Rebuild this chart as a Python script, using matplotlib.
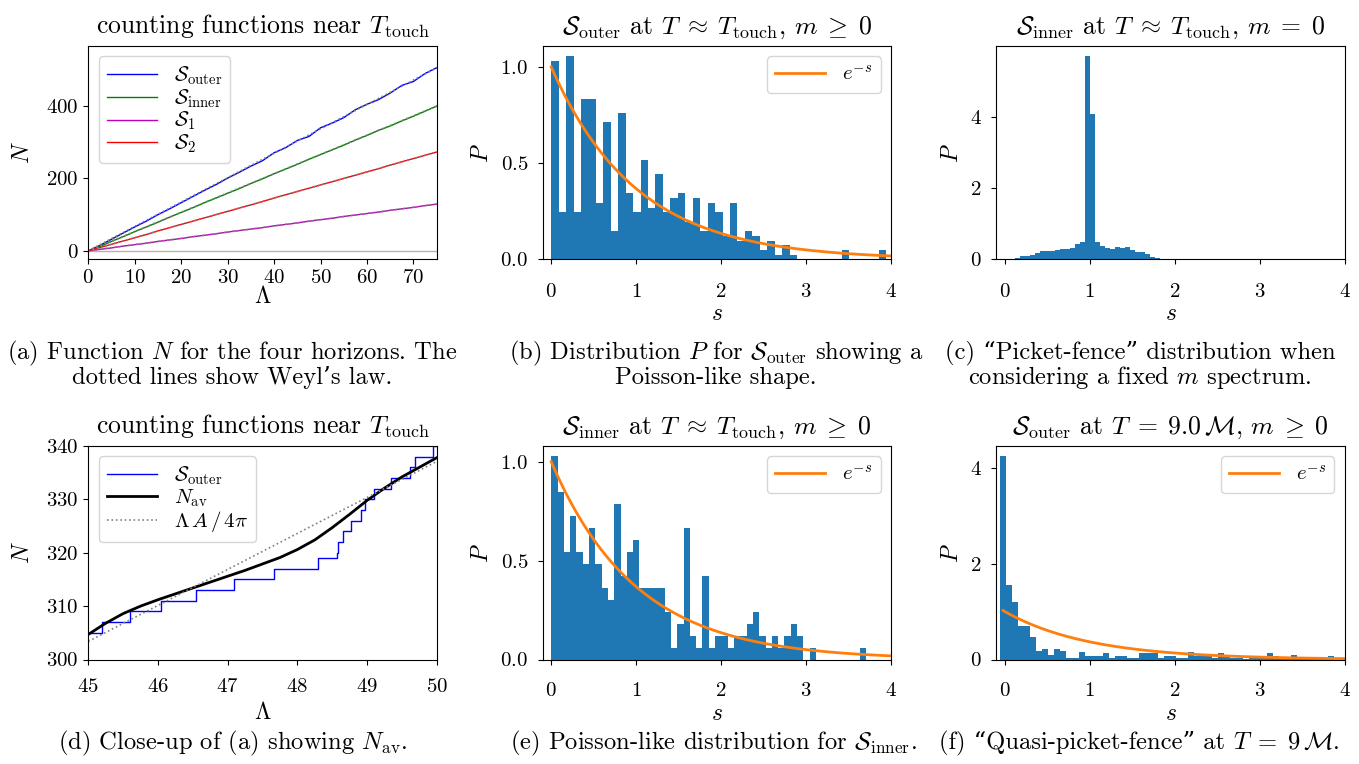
import numpy as np
import matplotlib
matplotlib.use("Agg")
import matplotlib.pyplot as plt

plt.rcParams['font.family'] = ['cmr10', 'DejaVu Serif']
plt.rcParams['mathtext.fontset'] = 'cm'
plt.rcParams['axes.formatter.use_mathtext'] = True

# --- (a) counting functions N(Lambda) for the four horizons ---
lam_a = np.arange(0, 75.1, 2.5)
n_outer = [0, 15, 32, 49, 66, 82, 100, 116, 133, 150, 167, 183, 201, 217, 234, 249,
           271, 285, 305, 316, 340, 353, 368, 390, 405, 418, 436, 457, 468, 490, 506]
n_inner = [0, 12, 26, 39, 53, 66, 79, 93, 106, 119, 133, 146, 159, 172, 186, 199,
           213, 226, 239, 253, 266, 279, 292, 306, 319, 333, 345, 359, 372, 386, 400]
n_s1 = [0, 4, 8, 13, 17, 21, 26, 30, 34, 39, 43, 47, 52, 56, 60, 64,
        69, 73, 77, 82, 86, 90, 95, 99, 103, 107, 112, 116, 120, 125, 129]
n_s2 = [0, 9, 18, 27, 36, 45, 55, 64, 73, 82, 91, 100, 109, 118, 127, 136,
        146, 155, 164, 173, 182, 191, 200, 209, 218, 227, 237, 246, 255, 264, 273]
# A/4pi for each horizon (Weyl's law N ~ Lambda A / 4 pi)
weyl_outer, weyl_inner, weyl_s1, weyl_s2 = 6.742, 5.33, 1.72, 3.64

# --- (d) close-up of the outer staircase ---
lam_d = [45.0, 45.19, 45.60, 46.05, 46.55, 47.09, 47.66, 48.30, 48.57, 48.59, 48.66,
         48.77, 48.92, 48.97, 49.10, 49.34, 49.62, 49.69, 49.94, 50.0]
stair_d = [305, 307, 309, 311, 313, 315, 317, 319, 320, 322, 324,
           326, 328, 330, 332, 334, 336, 338, 340, 340]
lam_av = [45.0, 45.25, 45.5, 45.75, 46.0, 46.25, 46.5, 46.75, 47.0, 47.25, 47.5,
          47.75, 48.0, 48.25, 48.5, 48.75, 49.0, 49.25, 49.5, 49.75, 50.0]
n_av = [304.7, 306.8, 308.6, 310.0, 311.2, 312.3, 313.4, 314.5, 315.6, 316.7, 317.9,
        319.1, 320.6, 322.4, 324.7, 327.2, 329.8, 332.1, 334.2, 336.0, 337.8]

# --- spacing histograms (density per bin) ---
b_range = (0.0, 3.945)
b_dens = [1.031, 0.246, 1.056, 0.246, 0.835, 0.835, 0.295, 0.712, 0.147, 0.761,
          0.344, 0.246, 0.516, 0.270, 0.442, 0.246, 0.319, 0.344, 0.196, 0.319,
          0.147, 0.295, 0.246, 0.123, 0.295, 0.098, 0.147, 0.123, 0.049, 0.098,
          0.025, 0.074, 0.025, 0, 0, 0, 0, 0, 0, 0.049, 0, 0, 0, 0, 0.049]

c_range = (0.0, 1.8235)
c_dens = [0.01, 0.01, 0.03, 0.09, 0.09, 0.12, 0.18, 0.23, 0.23, 0.23, 0.26, 0.29,
          0.29, 0.32, 0.43, 0.49, 5.70, 4.08, 0.49, 0.37, 0.32, 0.29, 0.34, 0.32,
          0.34, 0.26, 0.21, 0.21, 0.15, 0.07, 0.04]

e_range = (0.0, 3.709)
e_counts = [17, 14, 9, 12, 9, 8, 11, 8, 6, 5, 13, 7, 9, 10, 6, 6, 6, 6, 4, 1,
            3, 11, 2, 1, 7, 1, 2, 2, 1, 2, 2, 3, 4, 2, 1, 2, 1, 2, 3, 2,
            0, 1, 0, 0, 0, 0, 0, 0, 0, 1]

f_range = (-0.06, 3.87)
f_dens = [4.24, 1.56, 1.20, 0.70, 0.70, 0.47, 0.17, 0.21, 0.09, 0.21, 0.17, 0.03,
          0.03, 0.15, 0.07, 0.07, 0.07, 0.13, 0.03, 0.07, 0.07, 0.03, 0.03, 0.13,
          0.13, 0.13, 0.03, 0.07, 0.07, 0.03, 0.03, 0.15, 0.07, 0.07, 0.07, 0.03,
          0.13, 0.07, 0.03, 0.03, 0.02, 0.03, 0.03, 0.03, 0.13, 0.07, 0.03, 0.03,
          0.09, 0.03, 0.03, 0.03, 0.03, 0.02, 0.07]

W, H = 1359, 764
fig = plt.figure(figsize=(W / 100, H / 100), dpi=100)


def axes_at(left, top, width=348.4, height=213.5):
    return fig.add_axes([left / W, 1 - (top + height) / H, width / W, height / H])


TICK = 15
LAB = 17
TIT = 18.5
LEG = 15
CAP = 17.7

outer_t = r"$\mathcal{S}_{\rm outer}$"
inner_t = r"$\mathcal{S}_{\rm inner}$"
touch = r"$T \;\approx\; T_{\rm touch}$"
m_geq = r", $m \;\geq\; 0$"


def style(ax, title, xlabel, ylabel, xpad=3.5, ypad=3.5, xlabpad=4, ylabpad=9):
    ax.tick_params(labelsize=TICK)
    ax.tick_params(axis='x', pad=xpad)
    ax.tick_params(axis='y', pad=ypad)
    ax.set_title(title, fontsize=TIT, pad=9)
    ax.set_xlabel(xlabel, fontsize=LAB, labelpad=xlabpad)
    ax.set_ylabel(ylabel, fontsize=LAB, labelpad=ylabpad)


def add_legend(ax, loc):
    ax.legend(loc=loc, fontsize=LEG, labelspacing=0.0, handlelength=2.4)


def histogram(ax, dens, rng, title, yticks, xpad, xlabpad, curve_from=0.0, legend=True):
    edges = np.linspace(rng[0], rng[1], len(dens) + 1)
    ax.hist(edges[:-1], bins=edges, weights=dens, color='C0')
    if legend:
        s = np.linspace(curve_from, 4, 300)
        ax.plot(s, np.exp(-s), color='C1', lw=2, label=r'$e^{-s}$')
        add_legend(ax, 'upper right')
    ax.set_xlim(-0.1, 4)
    ax.set_xticks([0, 1, 2, 3, 4])
    ax.set_yticks(yticks)
    style(ax, title, r'$s$', r'$P$', xpad=xpad, ypad=7, xlabpad=xlabpad, ylabpad=5)


# (a)
ax = axes_at(88.3, 46)
ax.axhline(0, color='0.7', lw=1)
ax.plot(lam_a, n_outer, color='b', lw=1, label=outer_t)
ax.plot(lam_a, n_inner, color='g', lw=1, label=inner_t)
ax.plot(lam_a, n_s1, color='m', lw=1, label=r'$\mathcal{S}_1$')
ax.plot(lam_a, n_s2, color='r', lw=1, label=r'$\mathcal{S}_2$')
for k in (weyl_outer, weyl_inner, weyl_s1, weyl_s2):
    ax.plot(lam_a, lam_a * k, ':', color='grey', lw=1.2)
ax.set_xlim(0, 75)
ax.set_ylim(-24, 566)
ax.set_xticks(range(0, 71, 10))
ax.set_yticks([0, 200, 400])
add_legend(ax, 'upper left')
style(ax, r"counting functions near $T_{\rm touch}$", r'$\Lambda$', r'$N$', xlabpad=-1)

# (b)
histogram(axes_at(542.7, 46), b_dens, b_range, outer_t + " at " + touch + m_geq,
          [0, 0.5, 1.0], xpad=13.5, xlabpad=1)

# (c)
histogram(axes_at(996.3, 46), c_dens, c_range,
          inner_t + " at " + touch + r", $m \;=\; 0$", [0, 2, 4], xpad=13.5,
          xlabpad=1, legend=False)

# (d)
ax = axes_at(88.3, 446)
ax.plot(lam_d, stair_d, color='b', lw=1, drawstyle='steps-post', label=outer_t)
ax.plot(lam_av, n_av, color='k', lw=2, label=r'$N_{\rm av}$')
lam_w = np.array([45.0, 50.0])
ax.plot(lam_w, lam_w * weyl_outer, ':', color='grey', lw=1.2,
        label=r'$\Lambda\,A\,/\,4\pi$')
ax.set_xlim(45, 50)
ax.set_ylim(300, 340)
add_legend(ax, 'upper left')
style(ax, r"counting functions near $T_{\rm touch}$", r'$\Lambda$', r'$N$',
      xpad=10, xlabpad=4)

# (e)
ax = axes_at(542.7, 446)
edges_e = np.linspace(e_range[0], e_range[1], len(e_counts) + 1)
ax.hist(edges_e[:-1], bins=edges_e, weights=e_counts, density=True, color='C0')
s = np.linspace(0, 4, 300)
ax.plot(s, np.exp(-s), color='C1', lw=2, label=r'$e^{-s}$')
add_legend(ax, 'upper right')
ax.set_xlim(-0.1, 4)
ax.set_xticks([0, 1, 2, 3, 4])
ax.set_yticks([0, 0.5, 1.0])
style(ax, inner_t + " at " + touch + m_geq, r'$s$', r'$P$',
      xpad=12.9, ypad=7, xlabpad=2, ylabpad=5)

# (f)
histogram(axes_at(996.3, 446), f_dens, f_range,
          outer_t + r" at $T \;=\; 9.0\,\mathcal{M}$" + m_geq, [0, 2, 4],
          xpad=12.9, xlabpad=2, curve_from=-0.02)


# captions: pieces laid side by side, the group centred on x
def caption(x, y, *parts):
    r = fig.canvas.get_renderer()
    items = [fig.text(0, 0, p, fontsize=CAP, va='baseline') for p in parts]
    widths = [t.get_window_extent(r).width for t in items]
    left = x - sum(widths) / 2
    for t, w in zip(items, widths):
        t.set_position((left / W, 1 - (y + 6) / H))
        left += w


caption(232, 353, r"(a) Function $N$ for the four horizons. The")
caption(232, 378, "dotted lines show Weyl\u2019s law.")
caption(716, 353, r"(b) Distribution $P$ for " + outer_t + " showing a")
caption(716, 378, "Poisson-like shape.")
caption(1140, 353, "(c) \u201cPicket-fence\u201d distribution when")
caption(1140, 378, r"considering a fixed $m$ spectrum.")
caption(233, 743, r"(d) Close-up of (a) showing $N_{\rm av}$.")
caption(713, 743, r"(e) Poisson-like distribution for " + inner_t + ".")
caption(1139, 743, "(f) \u201cQuasi-picket-fence\u201d at", r" $T \;=\; 9\,\mathcal{M}$.")

fig.savefig("out.png", dpi=100)
